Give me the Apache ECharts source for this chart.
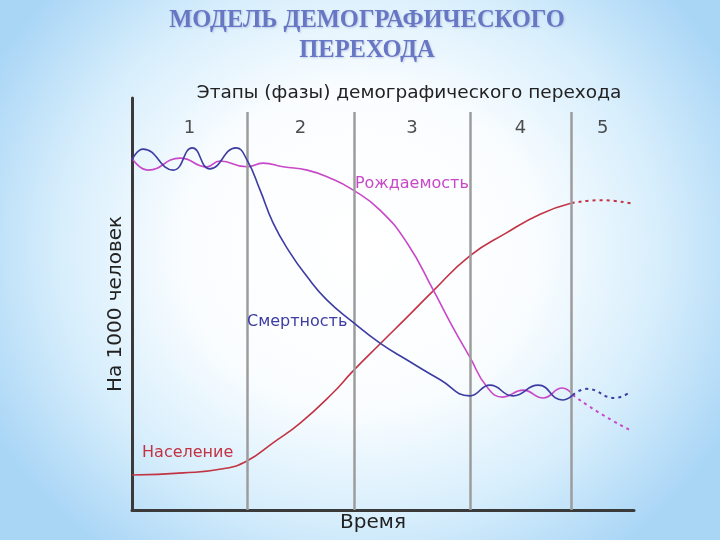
<!DOCTYPE html>
<html>
<head>
<meta charset="utf-8">
<script src="https://cdn.jsdelivr.net/npm/echarts@6/dist/echarts.min.js"></script>
<style>
html,body{margin:0;padding:0;width:720px;height:540px;overflow:hidden;}
body{
  background:
    radial-gradient(ellipse 58% 70% at 50% 46%, rgba(255,255,255,1) 0%, rgba(250,253,255,1) 42%, rgba(215,238,252,1) 72%, rgba(170,214,246,1) 100%);
}
#c{width:720px;height:540px;}
</style>
</head>
<body>
<div id="c"></div>
<script>
// ---- data ----
const phaseLabels = ['1', '2', '3', '4', '5'];
const phaseBounds = [22.9, 44.2, 67.3, 87.5];

const deathX = [0, 2.2, 8.2, 12.0, 15.5, 20.7, 22.9, 25.5, 28.1, 31.5, 34.9, 38.8, 44.0, 49.4, 54.8, 61.4, 67.3, 71.3, 75.9, 80.9, 85.7, 87.8];
const deathY = [85.0, 87.6, 82.5, 87.9, 82.8, 87.9, 85.0, 77.7, 69.7, 62.4, 56.6, 51.0, 45.6, 40.5, 36.4, 31.6, 27.7, 30.3, 27.7, 30.3, 26.7, 27.9];
const deathFutureX = [87.8, 90.6, 96.2, 99.2];
const deathFutureY = [27.9, 29.4, 27.2, 28.6];

const birthX = [0, 3.2, 9.6, 14.9, 17.5, 22.9, 26.1, 30.1, 34.9, 39.4, 44.0, 49.4, 54.8, 60.0, 63.9, 67.3, 70.7, 73.9, 77.9, 81.9, 85.7, 87.8];
const birthY = [85.4, 82.5, 85.4, 83.3, 84.7, 83.3, 84.2, 83.3, 82.5, 80.6, 77.7, 72.8, 64.8, 53.4, 44.4, 37.1, 29.9, 27.4, 29.1, 27.2, 29.6, 27.9];
const birthFutureX = [87.8, 93.2, 99.2];
const birthFutureY = [27.9, 23.5, 19.4];

const popX = [0, 10.2, 18.1, 22.9, 28.1, 33.5, 40.0, 44.0, 49.4, 54.8, 60.0, 67.3, 74.5, 81.3, 87.6];
const popY = [8.5, 9.0, 10.0, 11.9, 16.3, 21.1, 28.4, 33.7, 40.3, 46.8, 53.2, 61.7, 67.2, 71.8, 74.5];
const popFutureX = [87.6, 93.2, 100];
const popFutureY = [74.5, 75.2, 74.3];

const zip = (xs, ys) => xs.map((x, i) => [x, ys[i]]);

const BLUE = '#3d3ca3', PINK = '#c848c8', RED = '#c23343';
const FONT = 'DejaVu Sans';
const SMOOTH = 0.5;

const edges = [0].concat(phaseBounds, [100]);
const phaseCenters = phaseLabels.map((t, i) => [(edges[i] + edges[i + 1]) / 2, 92.6, t]);

const chart = echarts.init(document.getElementById('c'), null, {renderer: 'canvas'});
chart.setOption({
  backgroundColor: 'transparent',
  animation: false,
  title: [
    {
      text: 'МОДЕЛЬ ДЕМОГРАФИЧЕСКОГО\nПЕРЕХОДА',
      left: 362, top: 1, textAlign: 'center',
      textStyle: {fontFamily: 'Liberation Serif', fontWeight: 'bold', fontSize: 24.5, color: '#6877c4', lineHeight: 30,
        textShadowColor: 'rgba(80,90,160,0.25)', textShadowBlur: 2, textShadowOffsetX: 1, textShadowOffsetY: 1}
    },
    {
      text: 'Этапы (фазы) демографического перехода',
      left: 404, top: 79, textAlign: 'center',
      textStyle: {fontFamily: FONT, fontWeight: 'normal', fontSize: 18.5, color: '#222'}
    }
  ],
  grid: {left: 132, right: 86, top: 98, bottom: 30},
  xAxis: {
    type: 'value', min: 0, max: 100,
    name: 'Время', nameLocation: 'middle', nameGap: 3,
    nameTextStyle: {fontFamily: FONT, fontSize: 20, color: '#222', padding: [0, 20, 0, 0], verticalAlign: 'top'},
    axisLine: {show: true, onZero: false, lineStyle: {color: '#3a3a3a', width: 3}},
    axisTick: {show: false}, axisLabel: {show: false}, splitLine: {show: false}
  },
  yAxis: {
    type: 'value', min: 0, max: 100,
    name: 'На 1000 человек', nameLocation: 'middle', nameGap: 6, nameRotate: 90,
    nameTextStyle: {fontFamily: FONT, fontSize: 20, color: '#222', verticalAlign: 'bottom'},
    axisLine: {show: true, onZero: false, lineStyle: {color: '#3a3a3a', width: 3}},
    axisTick: {show: false}, axisLabel: {show: false}, splitLine: {show: false}
  },
  series: [
    {
      type: 'line', data: [], silent: true,
      markLine: {
        silent: true, symbol: 'none', label: {show: false},
        lineStyle: {color: '#9c9c9c', width: 2.5, type: 'solid'},
        data: phaseBounds.map(b => [{coord: [b, 0]}, {coord: [b, 96.6]}])
      }
    },
    {
      type: 'scatter', symbolSize: 0, silent: true, data: phaseCenters,
      label: {show: true, position: 'inside', formatter: p => p.data[2], fontFamily: FONT, fontSize: 18, color: '#222'}
    },
    {
      name: 'Население', type: 'line', data: zip(popX, popY), smooth: SMOOTH, showSymbol: false,
      lineStyle: {color: RED, width: 1.6}, z: 3,
      markPoint: {symbol: 'circle', symbolSize: 0, silent: true,
        label: {show: true, position: 'right', distance: 0, formatter: 'Население', fontFamily: FONT, fontSize: 16, color: RED},
        data: [{coord: [2.0, 13.8]}]}
    },
    {
      type: 'line', data: zip(popFutureX, popFutureY), smooth: SMOOTH, showSymbol: false,
      lineStyle: {color: RED, width: 2, type: [3, 4]}, z: 3
    },
    {
      name: 'Рождаемость', type: 'line', data: zip(birthX, birthY), smooth: SMOOTH, showSymbol: false,
      lineStyle: {color: PINK, width: 1.6}, z: 4,
      markPoint: {symbol: 'circle', symbolSize: 0, silent: true,
        label: {show: true, position: 'right', distance: 0, formatter: 'Рождаемость', fontFamily: FONT, fontSize: 16, color: PINK},
        data: [{coord: [44.4, 79.1]}]}
    },
    {
      type: 'line', data: zip(birthFutureX, birthFutureY), smooth: SMOOTH, showSymbol: false,
      lineStyle: {color: PINK, width: 2, type: [3, 4]}, z: 4
    },
    {
      name: 'Смертность', type: 'line', data: zip(deathX, deathY), smooth: SMOOTH, showSymbol: false,
      lineStyle: {color: BLUE, width: 1.6}, z: 5,
      markPoint: {symbol: 'circle', symbolSize: 0, silent: true,
        label: {show: true, position: 'right', distance: 0, formatter: 'Смертность', fontFamily: FONT, fontSize: 16, color: BLUE},
        data: [{coord: [22.9, 45.6]}]}
    },
    {
      type: 'line', data: zip(deathFutureX, deathFutureY), smooth: SMOOTH, showSymbol: false,
      lineStyle: {color: BLUE, width: 2, type: [3, 4]}, z: 5
    }
  ]
});
</script>
</body>
</html>
